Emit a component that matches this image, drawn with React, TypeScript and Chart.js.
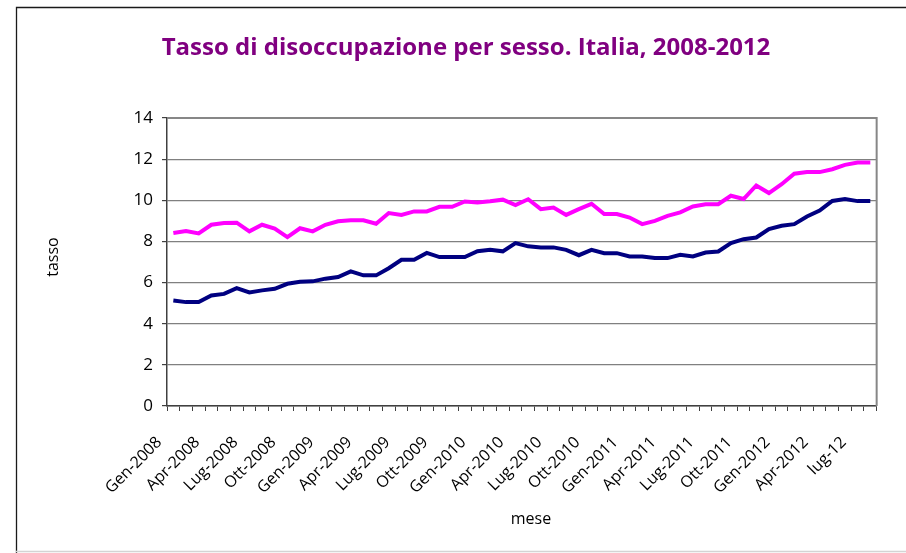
import React, { useEffect, useRef } from "react";
import { Chart, registerables } from "chart.js";

Chart.register(...registerables);

const categories: string[] = [
  "Gen-2008", "Feb-2008", "Mar-2008", "Apr-2008", "Mag-2008", "Giu-2008", "Lug-2008", "Ago-2008", "Set-2008", "Ott-2008", "Nov-2008", "Dic-2008",
  "Gen-2009", "Feb-2009", "Mar-2009", "Apr-2009", "Mag-2009", "Giu-2009", "Lug-2009", "Ago-2009", "Set-2009", "Ott-2009", "Nov-2009", "Dic-2009",
  "Gen-2010", "Feb-2010", "Mar-2010", "Apr-2010", "Mag-2010", "Giu-2010", "Lug-2010", "Ago-2010", "Set-2010", "Ott-2010", "Nov-2010", "Dic-2010",
  "Gen-2011", "Feb-2011", "Mar-2011", "Apr-2011", "Mag-2011", "Giu-2011", "Lug-2011", "Ago-2011", "Set-2011", "Ott-2011", "Nov-2011", "Dic-2011",
  "Gen-2012", "Feb-2012", "Mar-2012", "Apr-2012", "Mag-2012", "Giu-2012", "lug-12", "ago-12",
];

const femmine: number[] = [
  8.41, 8.51, 8.39, 8.81, 8.9, 8.91, 8.49, 8.81, 8.62, 8.21, 8.64, 8.49,
  8.81, 8.98, 9.03, 9.03, 8.86, 9.38, 9.29, 9.46, 9.46, 9.68, 9.68, 9.94,
  9.89, 9.95, 10.03, 9.77, 10.05, 9.57, 9.65, 9.29, 9.57, 9.83, 9.33, 9.33,
  9.16, 8.84, 9.0, 9.24, 9.41, 9.7, 9.81, 9.81, 10.22, 10.06, 10.72, 10.35,
  10.78, 11.29, 11.37, 11.37, 11.51, 11.72, 11.84, 11.84,
];

const maschi: number[] = [
  5.13, 5.05, 5.05, 5.37, 5.45, 5.73, 5.52, 5.62, 5.7, 5.94, 6.04, 6.06,
  6.19, 6.27, 6.54, 6.35, 6.35, 6.7, 7.11, 7.11, 7.44, 7.24, 7.24, 7.24,
  7.52, 7.6, 7.52, 7.92, 7.76, 7.71, 7.71, 7.59, 7.33, 7.59, 7.43, 7.43,
  7.27, 7.27, 7.19, 7.19, 7.35, 7.27, 7.46, 7.51, 7.92, 8.11, 8.19, 8.6,
  8.76, 8.84, 9.21, 9.5, 9.97, 10.06, 9.96, 9.96,
];

const titleText = "Tasso di disoccupazione per sesso. Italia, 2008-2012";
const yTitle = "tasso";
const xTitle = "mese";
const FONT = "'Open Sans', 'DejaVu Sans', sans-serif";

const decorPlugin = {
  id: "decor",
  beforeDatasetsDraw(chart: any) {
    const { ctx, chartArea } = chart;
    ctx.save();
    ctx.strokeStyle = "#878787";
    ctx.lineWidth = 2;
    ctx.beginPath();
    ctx.moveTo(chartArea.left, chartArea.top);
    ctx.lineTo(chartArea.right, chartArea.top);
    ctx.lineTo(chartArea.right, chartArea.bottom);
    ctx.stroke();
    ctx.restore();
  },
  afterDraw(chart: any) {
    const { ctx, width, height } = chart;
    ctx.save();
    // outer frame
    ctx.strokeStyle = "#1a1a1a";
    ctx.lineWidth = 1.3;
    ctx.beginPath();
    ctx.moveTo(16.5, height);
    ctx.lineTo(16.5, 7.5);
    ctx.lineTo(width, 7.5);
    ctx.stroke();
    ctx.strokeStyle = "#d4d4d4";
    ctx.lineWidth = 1.5;
    ctx.beginPath();
    ctx.moveTo(16, 551.5);
    ctx.lineTo(width, 551.5);
    ctx.stroke();
    // title
    ctx.fillStyle = "#800080";
    ctx.font = `bold 24px ${FONT}`;
    ctx.textAlign = "center";
    ctx.textBaseline = "alphabetic";
    ctx.fillText(titleText, 466, 55);
    // axis titles
    ctx.fillStyle = "#000";
    ctx.font = `16px ${FONT}`;
    ctx.textBaseline = "middle";
    ctx.fillText(xTitle, 531, 519);
    ctx.translate(53, 257);
    ctx.rotate(-Math.PI / 2);
    ctx.fillText(yTitle, 0, 0);
    ctx.restore();
  },
};

export default function App() {
  const ref = useRef<HTMLCanvasElement | null>(null);
  useEffect(() => {
    if (!ref.current) return;
    const chart = new Chart(ref.current, {
      type: "line",
      data: {
        labels: categories,
        datasets: [
          {
            label: "Femmine",
            data: femmine,
            borderColor: "#ff00ff",
            backgroundColor: "#ff00ff",
            borderWidth: 4,
            pointRadius: 0,
            tension: 0,
          },
          {
            label: "Maschi",
            data: maschi,
            borderColor: "#000080",
            backgroundColor: "#000080",
            borderWidth: 4,
            pointRadius: 0,
            tension: 0,
          },
        ],
      },
      options: {
        responsive: false,
        animation: false,
        devicePixelRatio: 1,
        layout: { padding: { left: 0, top: 118, right: 12, bottom: 0 } },
        plugins: {
          legend: { display: false },
          title: { display: false },
          tooltip: { enabled: false },
        },
        scales: {
          x: {
            type: "category",
            offset: true,
            grid: {
              offset: true,
              drawOnChartArea: false,
              drawTicks: true,
              tickLength: 5,
              color: "#404040",
              tickColor: "#404040",
            },
            border: { color: "#404040", width: 1.5 },
            ticks: {
              autoSkip: false,
              maxRotation: 45,
              minRotation: 45,
              padding: 22,
              labelOffset: -14,
              color: "#000",
              font: { family: FONT, size: 16 },
              callback: (_v: any, i: number) => (i % 3 === 0 ? categories[i] : ""),
            },
            afterFit: (scale: any) => {
              scale.height = 147;
            },
          },
          y: {
            min: 0,
            max: 14,
            ticks: {
              stepSize: 2,
              padding: 9,
              color: "#000",
              font: { family: FONT, size: 17 },
            },
            grid: {
              color: "#808080",
              lineWidth: 1.2,
              tickLength: 5,
              tickColor: "#404040",
            },
            border: { color: "#404040", width: 1.5 },
            afterFit: (scale: any) => {
              scale.width = 167;
            },
          },
        },
      },
      plugins: [decorPlugin],
    });
    return () => chart.destroy();
  }, []);
  return (
    <div style={{ position: "absolute", left: 0, top: 0, width: 906, height: 553, background: "#fff" }}>
      <canvas ref={ref} width={906} height={553} />
    </div>
  );
}
